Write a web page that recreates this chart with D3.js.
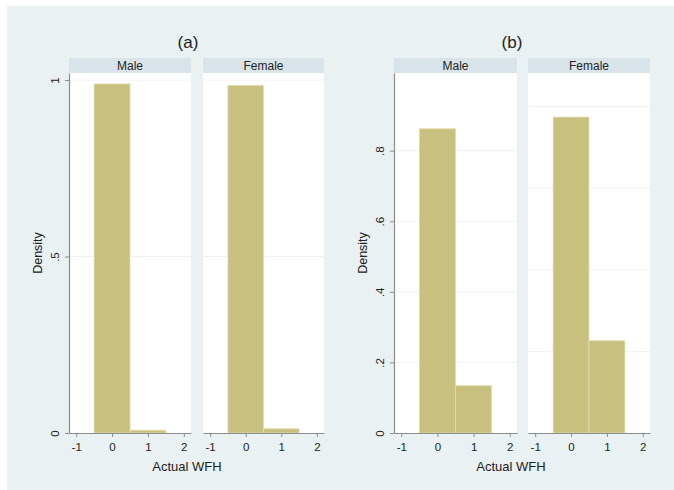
<!DOCTYPE html>
<html><head><meta charset="utf-8">
<script src="https://cdn.jsdelivr.net/npm/d3@7"></script>
<style>body{margin:0;background:#fff}svg{display:block}text{font-family:"Liberation Sans",Arial,sans-serif}</style>
</head><body>
<script>
// ---- data ----
const binCenters = [0, 1];
const binWidth = 1;
const sexes = ["Male", "Female"];
const panelTitles = ["(a)", "(b)"];
const densityA_Male = [0.989, 0.008];
const densityA_Female = [0.985, 0.012];
const densityB_Male = [0.862, 0.134];
const densityB_Female = [0.774, 0.226];
const xTicks = [-1, 0, 1, 2];
const xTickLabels = ["-1", "0", "1", "2"];
const yTicksA = [0, 0.5, 1];
const yTickLabelsA = ["0", ".5", "1"];
const yTicksB = [0, 0.2, 0.4, 0.6, 0.8];
const yTickLabelsB = ["0", ".2", ".4", ".6", ".8"];
const xTitle = "Actual WFH";
const yTitle = "Density";

// ---- layout ----
const W = 674, H = 490;
const svg = d3.select("body").append("svg").attr("width", W).attr("height", H);
svg.append("rect").attr("x", 7).attr("y", 6).attr("width", W - 7).attr("height", H - 6).attr("fill", "#eaf1f3");

const stripTop = 58, plotTop = 73, plotBottom = 433;
const panelDefs = [
  {title: panelTitles[0], titleX: 188, yTicks: yTicksA, yLabels: yTickLabelsA,
   subs: [{x0: 69, x1: 191, data: densityA_Male, yMax: 1.02, grid: yTicksA, axis: true},
          {x0: 203, x1: 324, data: densityA_Female, yMax: 1.02, grid: yTicksA, axis: false}]},
  {title: panelTitles[1], titleX: 512, yTicks: yTicksB, yLabels: yTickLabelsB,
   subs: [{x0: 394, x1: 517, data: densityB_Male, yMax: 1.02, grid: yTicksB, axis: true},
          {x0: 528, x1: 650, data: densityB_Female, yMax: 0.882, grid: yTicksB, axis: false}]}
];

const axisColor = "#8c8c8c";
const barFill = "#c8c07e";
const barStroke = "#e3deb0";
const fontFam = '"Liberation Sans",Arial,sans-serif';

panelDefs.forEach(p => {
  svg.append("text").attr("x", p.titleX).attr("y", 48).attr("text-anchor", "middle")
    .attr("font-size", 17).attr("fill", "#222").text(p.title);

  p.subs.forEach((s, i) => {
    const x = d3.scaleLinear().domain([-1.2, 2.2]).range([s.x0, s.x1]);
    const y = d3.scaleLinear().domain([0, s.yMax]).range([plotBottom, plotTop]);
    const g = svg.append("g");
    g.append("rect").attr("x", s.x0).attr("y", stripTop).attr("width", s.x1 - s.x0)
      .attr("height", plotTop - stripTop).attr("fill", "#d8e4ea");
    g.append("text").attr("x", (s.x0 + s.x1) / 2).attr("y", 70).attr("text-anchor", "middle")
      .attr("font-size", 12).attr("fill", "#222").text(sexes[i]);
    g.append("rect").attr("x", s.x0).attr("y", plotTop).attr("width", s.x1 - s.x0)
      .attr("height", plotBottom - plotTop).attr("fill", "#fff");
    g.selectAll("line.grid").data(s.grid.filter(v => v > 0)).join("line").attr("class", "grid")
      .attr("x1", s.x0).attr("x2", s.x1).attr("y1", d => y(d)).attr("y2", d => y(d))
      .attr("stroke", "#eff2f3").attr("stroke-width", 1);
    g.selectAll("rect.bar").data(s.data).join("rect").attr("class", "bar")
      .attr("x", (d, j) => x(binCenters[j] - binWidth / 2))
      .attr("width", (d, j) => x(binCenters[j] + binWidth / 2) - x(binCenters[j] - binWidth / 2))
      .attr("y", d => y(d)).attr("height", d => plotBottom - y(d))
      .attr("fill", barFill).attr("stroke", barStroke).attr("stroke-width", 0.8);
    const xa = g.append("g").attr("transform", `translate(0,${plotBottom})`)
      .call(d3.axisBottom(x).tickValues(xTicks).tickFormat((d, j) => xTickLabels[j]).tickSize(4).tickSizeOuter(0));
    xa.select(".domain").attr("stroke", axisColor).attr("stroke-width", 1.2);
    xa.selectAll(".tick line").attr("stroke", axisColor);
    xa.selectAll(".tick text").attr("font-size", 11.5).attr("fill", "#222")
      .attr("font-family", fontFam).attr("dy", "0.95em");
    if (s.axis) {
      const ya = g.append("g").attr("transform", `translate(${s.x0},0)`)
        .call(d3.axisLeft(y).tickValues(p.yTicks).tickFormat((d, j) => p.yLabels[j]).tickSize(4).tickSizeOuter(0));
      ya.select(".domain").attr("stroke", axisColor).attr("stroke-width", 1.2);
      ya.selectAll(".tick line").attr("stroke", axisColor);
      ya.selectAll(".tick text").attr("font-size", 11.5).attr("fill", "#222")
        .attr("font-family", fontFam)
        .attr("x", 0).attr("y", 0).attr("dy", 0).attr("text-anchor", "middle")
        .attr("transform", "translate(-10,0) rotate(-90)");
      svg.append("text").attr("transform", `translate(${s.x0 - 27},253) rotate(-90)`)
        .attr("text-anchor", "middle").attr("font-size", 12.5).attr("fill", "#222").text(yTitle);
    }
  });
  svg.append("text").attr("x", p.titleX - 1).attr("y", 471).attr("text-anchor", "middle")
    .attr("font-size", 13).attr("fill", "#222").text(xTitle);
});
</script>
</body></html>
